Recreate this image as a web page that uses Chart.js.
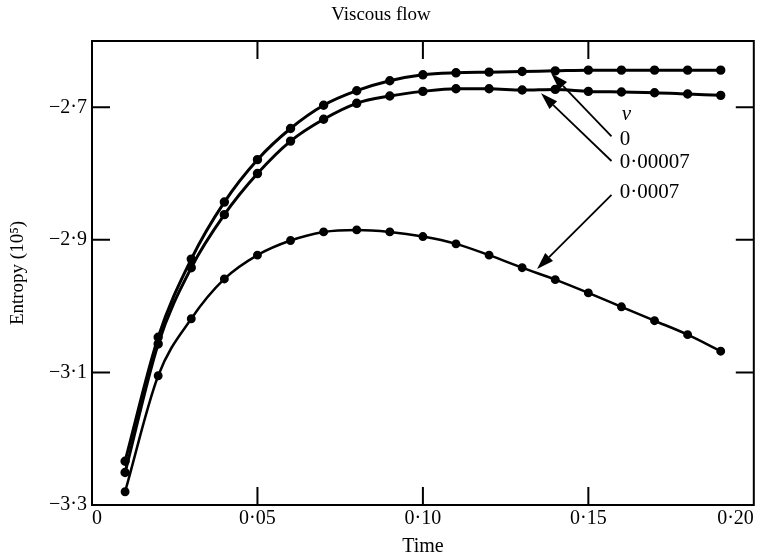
<!DOCTYPE html>
<html>
<head>
<meta charset="utf-8">
<script src="https://cdn.jsdelivr.net/npm/chart.js@4"></script>
<style>
  html, body { margin: 0; padding: 0; background: #fff; }
  #wrap { width: 760px; height: 559px; }
</style>
</head>
<body>
<div id="wrap"><canvas id="chart"></canvas></div>
<script>
// data
const times = [0.01, 0.02, 0.03, 0.04, 0.05, 0.06, 0.07, 0.08, 0.09, 0.10,
  0.11, 0.12, 0.13, 0.14, 0.15, 0.16, 0.17, 0.18, 0.19]
const nu0 = [-3.234, -3.047, -2.929, -2.843, -2.779, -2.732, -2.697, -2.675, -2.660, -2.651,
  -2.648, -2.647, -2.646, -2.645, -2.644, -2.644, -2.644, -2.644, -2.644]
const nu00007 = [-3.251, -3.057, -2.942, -2.862, -2.800, -2.751, -2.718, -2.694, -2.683, -2.676,
  -2.672, -2.672, -2.674, -2.673, -2.676, -2.677, -2.678, -2.680, -2.682]
const nu0007 = [-3.280, -3.105, -3.019, -2.959, -2.923, -2.901, -2.888, -2.885, -2.888, -2.895,
  -2.906, -2.923, -2.942, -2.960, -2.980, -3.001, -3.022, -3.043, -3.068]
const xTicks = [0, 0.05, 0.10, 0.15, 0.20]
const yTicks = [-3.3, -3.1, -2.9, -2.7]
const legendLabels = ['0', '0·00007', '0·0007']

// arrows: tail and head in data units
const arrows = [
  { from: [0.157, -2.744], to: [0.1388, -2.649] },
  { from: [0.157, -2.781], to: [0.1357, -2.679] },
  { from: [0.157, -2.832], to: [0.1345, -2.944] },
]
const labelX = 0.1595
const labelY = [-2.748, -2.784, -2.829]

const FONT = '"Liberation Serif", "Times New Roman", serif'

const pts = (ys) => times.map((t, i) => ({ x: t, y: ys[i] }))

const makeSet = (ys, w) => ({
  data: pts(ys),
  borderColor: '#000',
  backgroundColor: '#000',
  borderWidth: w,
  pointRadius: 3.2,
  pointHoverRadius: 3.2,
  tension: 0.4,
  cubicInterpolationMode: 'monotone',
})

const fmt = (v, dp) => {
  if (Math.abs(v) < 1e-9) return '0'
  let s = Math.abs(v).toFixed(dp).replace('.', '·')
  return (v < 0 ? '\u2212' : '') + s
}

// frame, inward ticks and the arrow annotation
const framePlugin = {
  id: 'frame',
  afterDatasetsDraw(chart) {
    const { ctx, chartArea: a, scales } = chart
    const xs = scales.x, ys = scales.y
    const len = 18
    ctx.save()
    ctx.strokeStyle = '#000'
    ctx.lineWidth = 2
    ctx.strokeRect(a.left, a.top, a.right - a.left, a.bottom - a.top)
    ctx.beginPath()
    xTicks.slice(1, -1).forEach((t) => {
      const px = xs.getPixelForValue(t)
      ctx.moveTo(px, a.bottom); ctx.lineTo(px, a.bottom - len)
      ctx.moveTo(px, a.top); ctx.lineTo(px, a.top + len)
    })
    yTicks.slice(1).forEach((v) => {
      const py = ys.getPixelForValue(v)
      ctx.moveTo(a.left, py); ctx.lineTo(a.left + len, py)
      ctx.moveTo(a.right, py); ctx.lineTo(a.right - len, py)
    })
    ctx.stroke()

    // arrows
    ctx.lineWidth = 1.8
    arrows.forEach((ar) => {
      const x1 = xs.getPixelForValue(ar.from[0]), y1 = ys.getPixelForValue(ar.from[1])
      const x2 = xs.getPixelForValue(ar.to[0]), y2 = ys.getPixelForValue(ar.to[1])
      const ang = Math.atan2(y2 - y1, x2 - x1)
      const hl = 17, hw = 5.5
      const bx = x2 - hl * Math.cos(ang), by = y2 - hl * Math.sin(ang)
      ctx.beginPath()
      ctx.moveTo(x1, y1); ctx.lineTo(bx, by)
      ctx.stroke()
      ctx.beginPath()
      ctx.moveTo(x2, y2)
      ctx.lineTo(bx + hw * Math.sin(ang), by - hw * Math.cos(ang))
      ctx.lineTo(bx - hw * Math.sin(ang), by + hw * Math.cos(ang))
      ctx.closePath()
      ctx.fill()
    })

    // labels
    ctx.fillStyle = '#000'
    ctx.textBaseline = 'middle'
    ctx.textAlign = 'left'
    const lx = xs.getPixelForValue(labelX)
    ctx.font = 'italic 21px ' + FONT
    ctx.fillText('ν', lx + 2, ys.getPixelForValue(labelY[0]) - 25)
    ctx.font = '21px ' + FONT
    legendLabels.forEach((s, i) => {
      ctx.fillText(s, lx, ys.getPixelForValue(labelY[i]))
    })
    ctx.restore()
  },
}

new Chart(document.getElementById('chart'), {
  type: 'line',
  data: {
    datasets: [makeSet(nu0, 3), makeSet(nu00007, 3), makeSet(nu0007, 2.5)],
  },
  options: {
    responsive: true,
    maintainAspectRatio: false,
    animation: false,
    layout: { padding: { left: 7, right: 5, top: 0, bottom: 0 } },
    plugins: {
      legend: { display: false },
      tooltip: { enabled: false },
      title: {
        display: true,
        text: 'Viscous flow',
        color: '#000',
        font: { family: FONT, size: 19, weight: 'normal' },
        padding: { top: 4, bottom: 14.2 },
      },
    },
    scales: {
      x: {
        type: 'linear',
        min: 0,
        max: 0.2,
        afterBuildTicks: (scale) => { scale.ticks = xTicks.map((v) => ({ value: v })) },
        afterFit: (scale) => { scale.height = 54 },
        grid: { display: false, drawTicks: false },
        border: { display: false },
        ticks: {
          color: '#000',
          align: 'inner',
          padding: 2,
          maxRotation: 0,
          font: { family: FONT, size: 20 },
          callback: (v) => fmt(v, 2),
        },
        title: {
          display: true,
          text: 'Time',
          color: '#000',
          padding: { top: 2, bottom: 0 },
          font: { family: FONT, size: 20 },
        },
      },
      y: {
        type: 'linear',
        min: -3.3,
        max: -2.6,
        afterBuildTicks: (scale) => { scale.ticks = yTicks.map((v) => ({ value: v })) },
        afterFit: (scale) => { scale.width = 85 },
        grid: { display: false, drawTicks: false },
        border: { display: false },
        ticks: {
          color: '#000',
          padding: 5,
          font: { family: FONT, size: 20 },
          callback: (v) => fmt(v, 1),
        },
        title: {
          display: true,
          text: 'Entropy (10\u2075)',
          color: '#000',
          padding: { top: 0, bottom: 2 },
          font: { family: FONT, size: 19 },
        },
      },
    },
  },
  plugins: [framePlugin],
})
</script>
</body>
</html>
